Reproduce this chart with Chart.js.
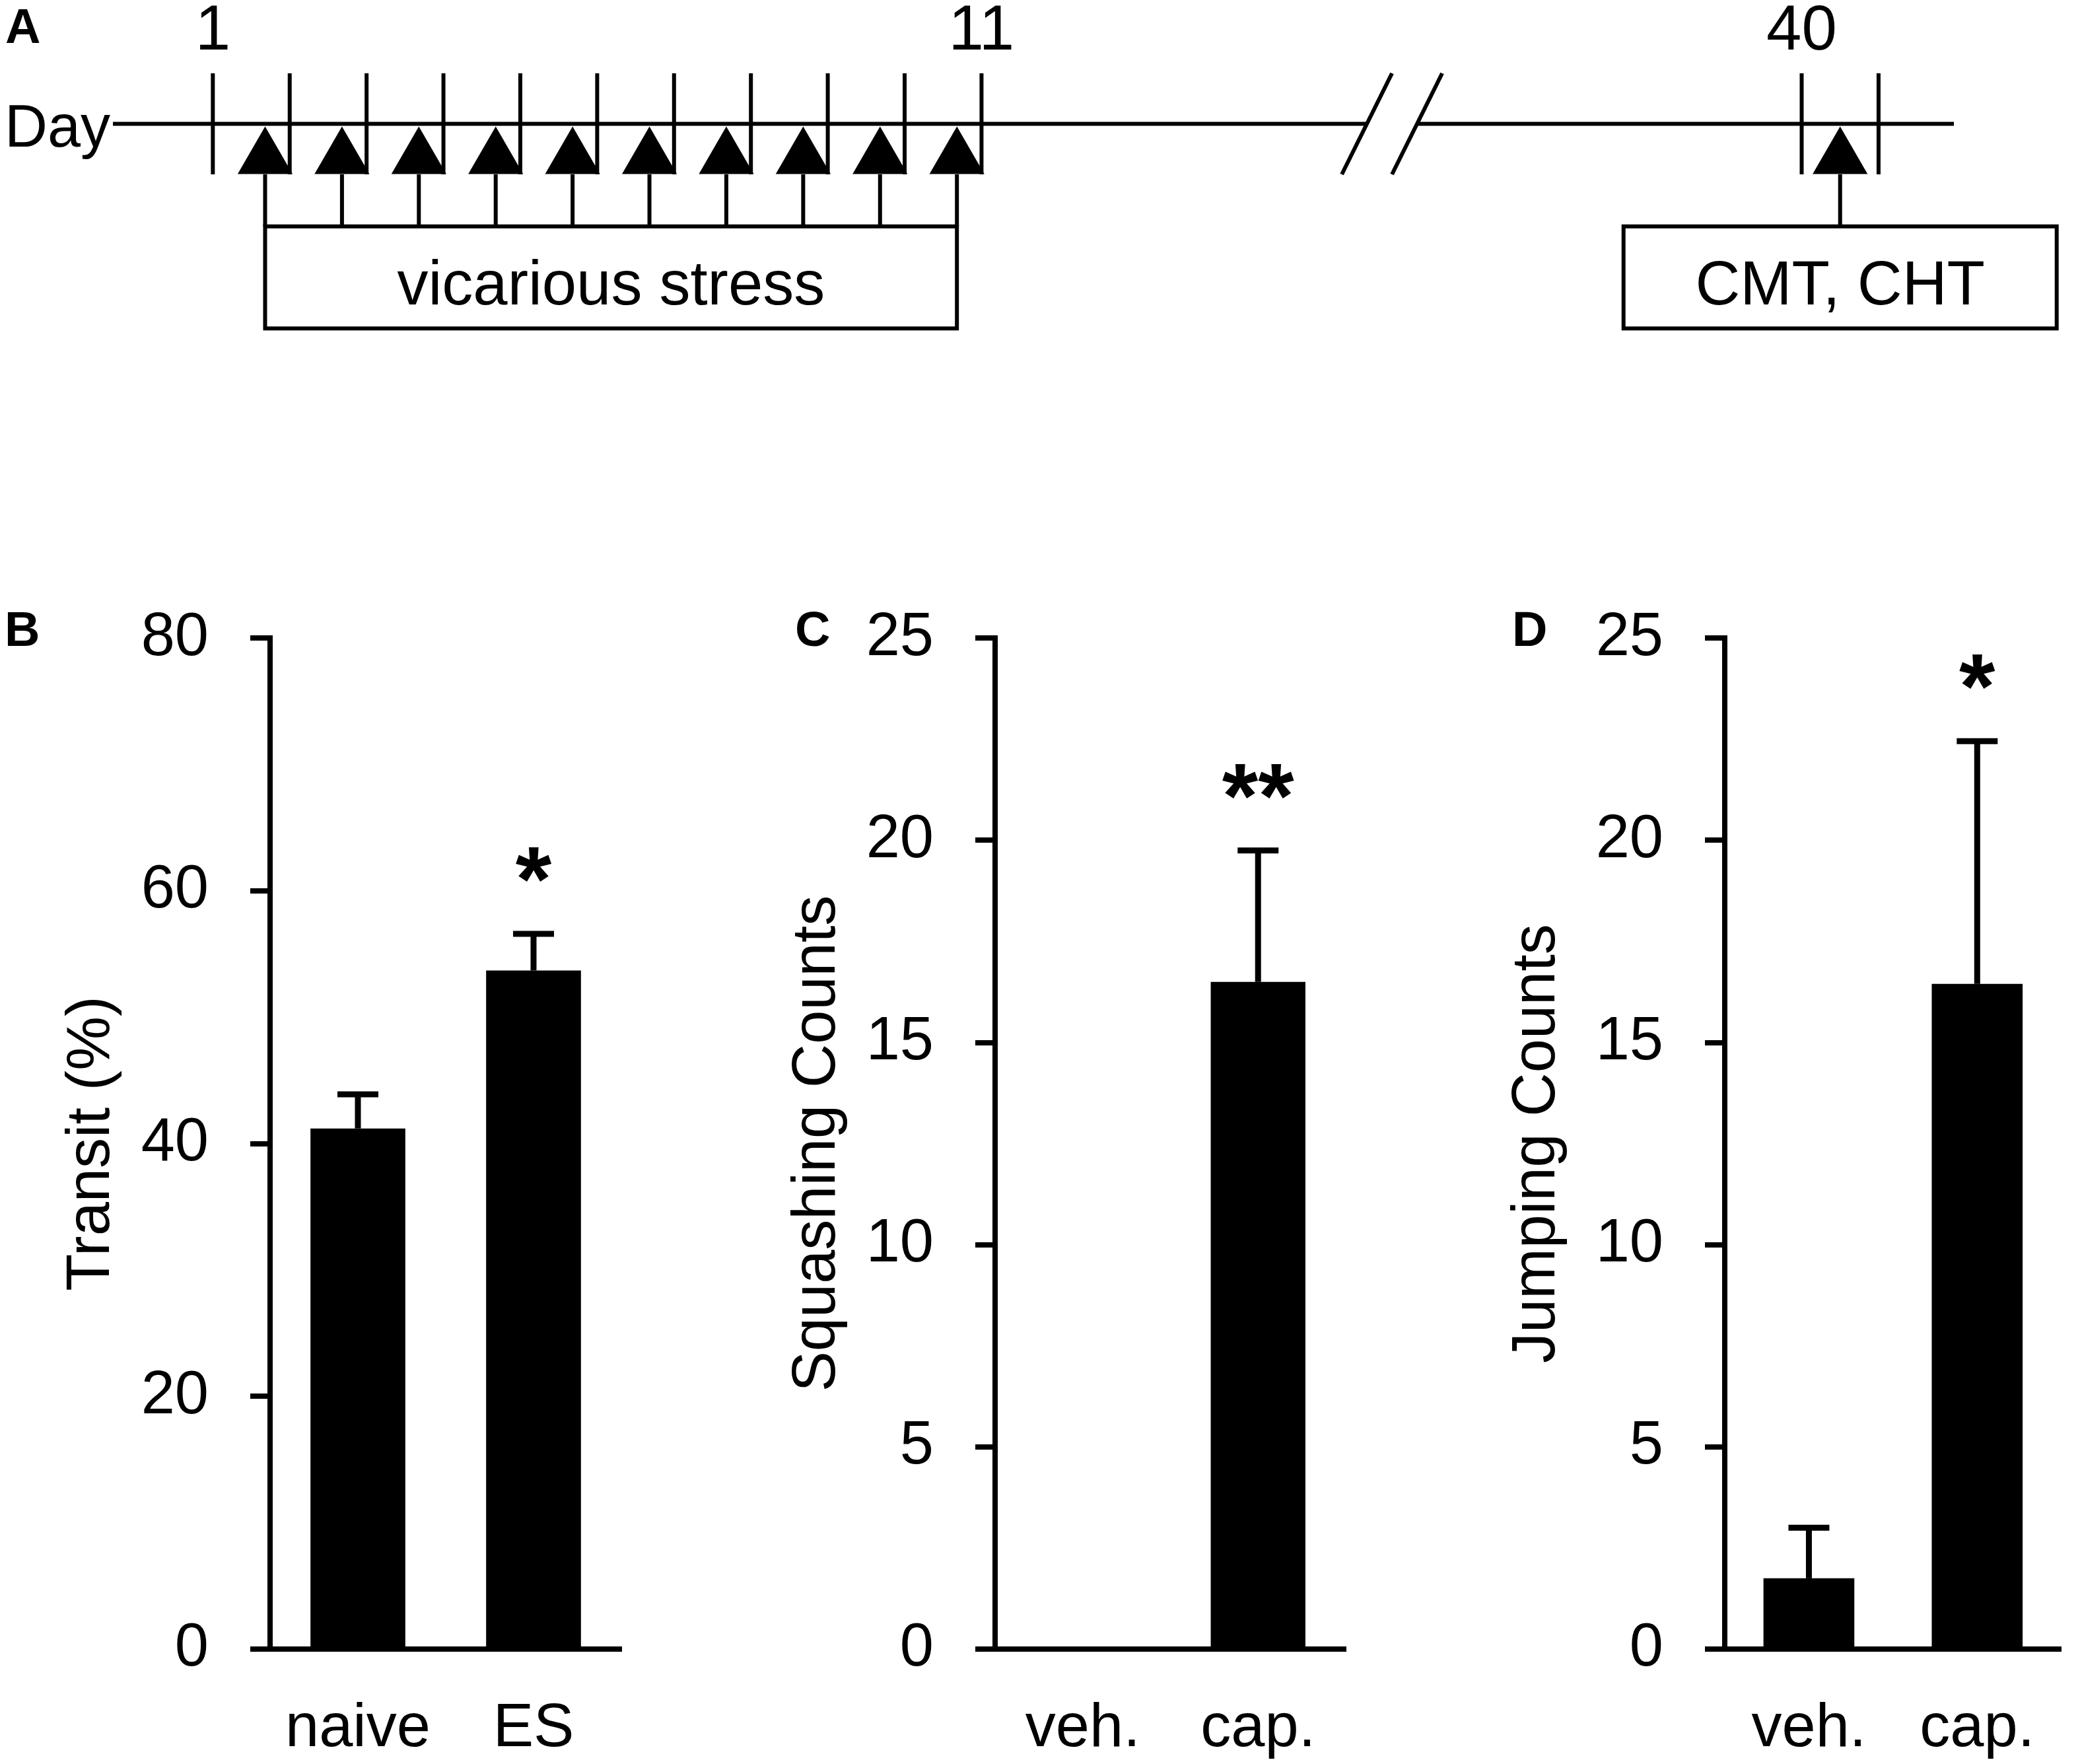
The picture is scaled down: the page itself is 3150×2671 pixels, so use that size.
<!DOCTYPE html>
<html>
<head>
<meta charset="utf-8">
<script src="https://cdn.jsdelivr.net/npm/chart.js@4.4.1/dist/chart.umd.min.js"></script>
<style>
  html, body { margin: 0; padding: 0; background: #fff; }
  body { width: 3150px; height: 2671px; position: relative; overflow: hidden; }
  canvas { position: absolute; }
</style>
</head>
<body>
<canvas id="panelA" width="3150" height="600" style="left:0px;top:0px"></canvas>
<canvas id="panelB" width="1050" height="1823" style="left:0px;top:848px"></canvas>
<canvas id="panelC" width="1050" height="1823" style="left:1100px;top:848px"></canvas>
<canvas id="panelD" width="1000" height="1823" style="left:2150px;top:848px"></canvas>
<script>
// ---- data ----

// A: protocol timeline (days)
const dayTicks = [1, 2, 3, 4, 5, 6, 7, 8, 9, 10, 11, 40, 41];
const labelledDays = [1, 11, 40];
const stressDays = [1.68, 2.68, 3.68, 4.68, 5.68, 6.68, 7.68, 8.68, 9.68, 10.68];
const testDays = [40.5];
const stressLabel = 'vicarious stress';
const testLabel = 'CMT, CHT';
const breakAfterDay = 11;
const hiddenDays = 18.33;   // days squeezed out by the axis break
const breakAt = 16.34;      // axis position of the // mark

// B: transit
const transitGroups = ['naive', 'ES'];
const transitMean = [41.2, 53.7];
const transitSem = [2.7, 2.9];
const transitSig = ['', '*'];

// C: squashing
const capGroups = ['veh.', 'cap.'];
const squashMean = [0, 16.5];
const squashSem = [0, 3.25];
const squashSig = ['', '**'];

// D: jumping
const jumpMean = [1.75, 16.45];
const jumpSem = [1.25, 6.0];
const jumpSig = ['', '*'];

// ---- common style ----
const FONT = "'Liberation Sans', Arial, Helvetica, sans-serif";
Chart.defaults.font.family = FONT;
Chart.defaults.color = '#000';

function axisPos(day) {
    return day > breakAfterDay ? day - hiddenDays : day;
}

function seg(ctx, x1, y1, x2, y2) {
    ctx.beginPath();
    ctx.moveTo(x1, y1);
    ctx.lineTo(x2, y2);
    ctx.stroke();
}

// ---- panel A ----
const arrowRow = -0.68;

const timeline = {
    id: 'timeline',
    beforeDatasetsDraw(chart) {
        const { ctx, chartArea, scales: { x, y } } = chart;
        const yl = y.getPixelForValue(0);
        const yTop = y.getPixelForValue(1);
        const yBot = y.getPixelForValue(-1);
        const boxTop = y.getPixelForValue(-2.03);
        const boxBot = y.getPixelForValue(-4.05);
        ctx.save();
        ctx.strokeStyle = '#000';
        ctx.fillStyle = '#000';
        ctx.lineWidth = 6;

        // day line, broken at the // mark
        const bx = x.getPixelForValue(breakAt);
        seg(ctx, chartArea.left, yl, bx - 38, yl);
        seg(ctx, bx + 38, yl, chartArea.right, yl);
        [bx - 38, bx + 38].forEach(sx => seg(ctx, sx - 38, yBot, sx + 38, yTop));

        // day ticks
        dayTicks.forEach(d => {
            const px = x.getPixelForValue(axisPos(d));
            seg(ctx, px, yTop, px, yBot);
        });

        ctx.font = '96px ' + FONT;
        ctx.textAlign = 'center';
        ctx.textBaseline = 'alphabetic';
        labelledDays.forEach(d => {
            ctx.fillText(String(d), x.getPixelForValue(axisPos(d)), y.getPixelForValue(1.47));
        });

        ctx.font = '90px ' + FONT;
        ctx.textAlign = 'right';
        ctx.fillText('Day', chartArea.left - 4, y.getPixelForValue(-0.45));

        ctx.font = 'bold 74px ' + FONT;
        ctx.textAlign = 'left';
        ctx.fillText('A', 8, y.getPixelForValue(1.6));

        // stems from arrows to boxes
        [...stressDays, ...testDays].forEach(d => {
            const px = x.getPixelForValue(axisPos(d));
            seg(ctx, px, yBot, px, boxTop);
        });

        // boxes
        ctx.font = '94px ' + FONT;
        ctx.textAlign = 'center';
        const sx1 = x.getPixelForValue(axisPos(stressDays[0]));
        const sx2 = x.getPixelForValue(axisPos(stressDays[stressDays.length - 1]));
        ctx.strokeRect(sx1, boxTop, sx2 - sx1, boxBot - boxTop);
        ctx.fillText(stressLabel, (sx1 + sx2) / 2, y.getPixelForValue(-3.575));

        const tx = x.getPixelForValue(axisPos(testDays[0]));
        ctx.strokeRect(tx - 328, boxTop, 656, boxBot - boxTop);
        ctx.fillText(testLabel, tx, y.getPixelForValue(-3.575));
        ctx.restore();
    }
};

new Chart(document.getElementById('panelA'), {
    type: 'scatter',
    data: {
        datasets: [{
            data: [...stressDays, ...testDays].map(d => ({ x: axisPos(d), y: arrowRow })),
            pointStyle: 'triangle',
            pointRadius: 48,
            backgroundColor: '#000',
            borderWidth: 0,
            clip: false
        }]
    },
    options: {
        responsive: false,
        animation: false,
        events: [],
        layout: { padding: { left: 171, right: 191, top: 111, bottom: 336 } },
        plugins: { legend: { display: false }, tooltip: { enabled: false } },
        scales: {
            x: { type: 'linear', display: false, min: -0.3, max: 23.65 },
            y: { type: 'linear', display: false, min: -1, max: 1 }
        }
    },
    plugins: [timeline]
});

// ---- panels B, C, D ----
function errorBars(letter, letterX) {
    return {
        id: 'errorBars',
        afterDatasetsDraw(chart) {
            const { ctx, chartArea, scales: { y } } = chart;
            const ds = chart.data.datasets[0];
            const meta = chart.getDatasetMeta(0);
            ctx.save();
            ctx.strokeStyle = '#000';
            ctx.fillStyle = '#000';
            ctx.lineWidth = 9;
            meta.data.forEach((bar, i) => {
                const top = y.getPixelForValue(ds.data[i] + ds.sem[i]);
                if (ds.sem[i] > 0) {
                    seg(ctx, bar.x, bar.y, bar.x, top);
                    seg(ctx, bar.x - 31, top, bar.x + 31, top);
                }
                if (ds.sig[i]) {
                    ctx.font = 'bold 140px ' + FONT;
                    ctx.textAlign = 'center';
                    ctx.textBaseline = 'alphabetic';
                    ctx.fillText(ds.sig[i], bar.x, top - 35);
                }
            });
            ctx.font = 'bold 74px ' + FONT;
            ctx.textAlign = 'left';
            ctx.textBaseline = 'alphabetic';
            ctx.fillText(letter, letterX, chartArea.top + 12);
            ctx.restore();
        }
    };
}

function barPanel(id, cfg) {
    return new Chart(document.getElementById(id), {
        type: 'bar',
        data: {
            labels: cfg.labels,
            datasets: [{
                data: cfg.means,
                sem: cfg.sems,
                sig: cfg.sig,
                backgroundColor: '#000',
                borderWidth: 0,
                barPercentage: 0.54,
                categoryPercentage: 1
            }]
        },
        options: {
            responsive: false,
            animation: false,
            events: [],
            layout: { padding: { left: 0, top: 118, right: cfg.padRight, bottom: 0 } },
            plugins: { legend: { display: false }, tooltip: { enabled: false } },
            scales: {
                x: {
                    grid: { display: false, drawTicks: false, tickLength: 0 },
                    border: { display: true, color: '#000', width: 8 },
                    ticks: { color: '#000', font: { size: 92 }, padding: 66 },
                    afterFit: s => { s.height = 174; }
                },
                y: {
                    min: 0,
                    max: cfg.max,
                    ticks: { stepSize: cfg.step, color: '#000', font: { size: 92 }, padding: 63 },
                    grid: { drawOnChartArea: false, drawTicks: true, tickLength: 30, lineWidth: 8, color: '#000' },
                    border: { display: true, color: '#000', width: 8 },
                    title: {
                        display: true,
                        text: cfg.title,
                        color: '#000',
                        font: { size: 92 },
                        padding: { top: cfg.titlePad, bottom: 0 }
                    },
                    afterFit: s => { s.width = cfg.yWidth; }
                }
            }
        },
        plugins: [errorBars(cfg.letter, cfg.letterX)]
    });
}

barPanel('panelB', {
    labels: transitGroups, means: transitMean, sems: transitSem, sig: transitSig,
    max: 80, step: 20, title: 'Transit (%)',
    yWidth: 409, padRight: 109, titlePad: 84, letter: 'B', letterX: 7
});

barPanel('panelC', {
    labels: capGroups, means: squashMean, sems: squashSem, sig: squashSig,
    max: 25, step: 5, title: 'Squashing Counts',
    yWidth: 407, padRight: 112, titlePad: 83, letter: 'C', letterX: 104
});

barPanel('panelD', {
    labels: capGroups, means: jumpMean, sems: jumpSem, sig: jumpSig,
    max: 25, step: 5, title: 'Jumping Counts',
    yWidth: 462, padRight: 11, titlePad: 123, letter: 'D', letterX: 140
});
</script>
</body>
</html>
